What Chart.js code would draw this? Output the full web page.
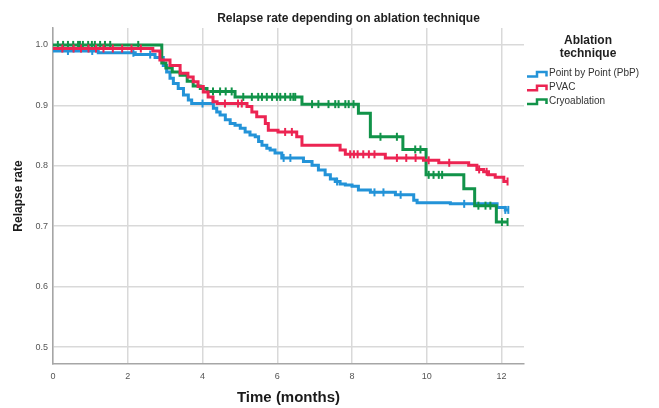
<!DOCTYPE html>
<html>
<head>
<meta charset="utf-8">
<title>Relapse rate depending on ablation technique</title>
<script src="https://cdn.jsdelivr.net/npm/chart.js@4/dist/chart.umd.min.js"></script>
<style>
  html, body { margin: 0; padding: 0; background: #ffffff; }
  #wrap { width: 659px; height: 408px; position: relative; }
</style>
</head>
<body>
<div id="wrap"><canvas id="km" width="659" height="408"></canvas></div>
<script>
// Kaplan-Meier estimates: time (months) of each step and the survival after it
const pbpTimes = [0, 1.21, 2.20, 2.73, 2.95, 3.04, 3.13, 3.22, 3.35, 3.49, 3.62, 3.71,
  4.29, 4.38, 4.47, 4.61, 4.74, 4.87, 5.01, 5.14, 5.27, 5.41, 5.50, 5.59, 5.72, 5.81, 5.94,
  6.12, 6.70, 6.93, 7.10, 7.28, 7.42, 7.55, 7.68, 7.82, 8.00, 8.17, 8.49, 9.16, 9.65, 9.74,
  10.63, 11.88, 12.10, 12.18];
const pbpSurvival = [0.990, 0.987, 0.984, 0.979, 0.966, 0.955, 0.945, 0.936, 0.928, 0.917, 0.909, 0.903,
  0.895, 0.889, 0.884, 0.876, 0.870, 0.867, 0.862, 0.856, 0.851, 0.848, 0.840, 0.834, 0.829, 0.826, 0.821,
  0.813, 0.807, 0.801, 0.793, 0.785, 0.778, 0.774, 0.770, 0.768, 0.766, 0.760, 0.756, 0.752, 0.743, 0.739,
  0.737, 0.731, 0.727, 0.727];
const pbpCensored = [0.40, 1.05, 2.15, 2.60, 4.00, 6.17, 6.35, 7.60, 8.60, 8.84, 9.30, 11.00, 12.10, 12.18];

const pvacTimes = [0, 2.67, 2.86, 3.13, 3.40, 3.61, 3.75, 3.88, 4.02, 4.15, 4.28, 4.39,
  5.19, 5.32, 5.45, 5.68, 5.76, 6.02, 6.52, 6.66, 7.68, 7.82, 8.89, 9.91, 10.32,
  11.12, 11.34, 11.52, 11.65, 11.83, 12.06, 12.16];
const pvacSurvival = [0.994, 0.990, 0.975, 0.966, 0.953, 0.947, 0.939, 0.931, 0.922, 0.914, 0.906, 0.903,
  0.898, 0.889, 0.881, 0.870, 0.859, 0.856, 0.848, 0.834, 0.826, 0.819, 0.813, 0.809, 0.805,
  0.801, 0.794, 0.790, 0.785, 0.781, 0.774, 0.774];
const pvacCensored = [0.25, 0.55, 0.75, 0.95, 1.15, 1.35, 1.60, 1.85, 2.10, 2.35, 4.60, 4.95, 5.05,
  6.21, 6.39, 7.95, 8.05, 8.15, 8.30, 8.45, 8.60, 9.20, 9.45, 9.70, 10.05, 10.60, 11.40, 11.60, 12.16];

const cryoTimes = [0, 2.91, 3.02, 3.19, 3.40, 3.59, 3.75, 3.94, 4.12, 4.87, 6.66, 8.17, 8.49,
  9.36, 9.98, 10.99, 11.28, 11.86, 12.16];
const cryoSurvival = [1.000, 0.970, 0.962, 0.955, 0.950, 0.940, 0.932, 0.928, 0.923, 0.914, 0.902, 0.887, 0.848,
  0.827, 0.785, 0.762, 0.734, 0.707, 0.707];
const cryoCensored = [0.13, 0.27, 0.40, 0.54, 0.67, 0.72, 0.80, 0.94, 1.04, 1.12, 1.26, 1.39, 1.53, 2.28,
  4.28, 4.47, 4.62, 4.78, 5.09, 5.32, 5.49, 5.59, 5.72, 5.86, 5.99, 6.08, 6.21, 6.35, 6.43, 6.48,
  6.93, 7.10, 7.37, 7.55, 7.64, 7.82, 7.91, 8.04, 8.76, 9.20, 9.69, 9.83, 10.05, 10.18, 10.32, 10.41,
  11.38, 11.57, 11.70, 12.01, 12.16];

const groupNames = ['Point by Point (PbP)', 'PVAC', 'Cryoablation'];
const xTickValues = [0, 2, 4, 6, 8, 10, 12];
const yTickValues = [0.5, 0.6, 0.7, 0.8, 0.9, 1.0];

const COLORS = ['#2393d8', '#ec2452', '#119349'];
const FONT = "'Liberation Sans', Arial, Helvetica, sans-serif";

function stepPoints(times, surv) {
  return times.map((t, i) => ({ x: t, y: surv[i] }));
}
function survivalAt(times, surv, t) {
  let v = surv[0];
  for (let i = 0; i < times.length; i++) { if (times[i] <= t) v = surv[i]; }
  return v;
}
function censorPoints(cens, times, surv) {
  return cens.map(t => ({ x: t, y: survivalAt(times, surv, t) }));
}

const groups = [
  { times: pbpTimes, surv: pbpSurvival, cens: pbpCensored, order: 3 },
  { times: pvacTimes, surv: pvacSurvival, cens: pvacCensored, order: 1 },
  { times: cryoTimes, surv: cryoSurvival, cens: cryoCensored, order: 2 }
];

const datasets = [];
groups.forEach((g, i) => {
  datasets.push({
    label: groupNames[i],
    data: stepPoints(g.times, g.surv),
    borderColor: COLORS[i],
    borderWidth: 3,
    stepped: 'before',
    pointRadius: 0,
    fill: false,
    borderJoinStyle: 'miter',
    borderCapStyle: 'butt',
    order: g.order
  });
  datasets.push({
    label: groupNames[i] + ' censored',
    data: censorPoints(g.cens, g.times, g.surv),
    showLine: false,
    borderColor: COLORS[i],
    pointBorderColor: COLORS[i],
    pointBackgroundColor: COLORS[i],
    pointStyle: 'line',
    rotation: 90,
    pointRadius: 4,
    pointBorderWidth: 2,
    order: g.order
  });
});

// Title and group legend
const decorations = {
  id: 'decorations',
  afterDraw(chart) {
    const ctx = chart.ctx;
    ctx.save();
    ctx.fillStyle = '#1f1f1f';
    ctx.textAlign = 'center';
    ctx.textBaseline = 'middle';
    ctx.font = 'bold 12px ' + FONT;
    ctx.fillText('Relapse rate depending on ablation technique', 348.5, 19);

    ctx.font = 'bold 12px ' + FONT;
    ctx.fillText('Ablation', 588, 40.5);
    ctx.fillText('technique', 588, 53.5);

    const rows = [73.5, 87.3, 101];
    ctx.textAlign = 'left';
    ctx.font = '10px ' + FONT;
    groupNames.forEach((name, i) => {
      const y = rows[i];
      ctx.strokeStyle = COLORS[i];
      ctx.lineWidth = 2.5;
      ctx.lineJoin = 'miter';
      ctx.beginPath();
      ctx.moveTo(527, y + 3);
      ctx.lineTo(537, y + 3);
      ctx.lineTo(537, y - 1.5);
      ctx.lineTo(546.5, y - 1.5);
      ctx.lineTo(546.5, y + 3);
      ctx.stroke();
      ctx.fillStyle = '#333333';
      ctx.fillText(name, 549, y);
    });
    ctx.restore();
  }
};

const gridColor = '#d9d9d9';
const axisColor = '#a6a6a6';

new Chart(document.getElementById('km'), {
  type: 'line',
  data: { datasets },
  plugins: [decorations],
  options: {
    responsive: false,
    animation: false,
    devicePixelRatio: 1,
    layout: { padding: { top: 28, right: 135, left: 0, bottom: 0 } },
    plugins: {
      legend: { display: false },
      title: { display: false },
      tooltip: { enabled: false }
    },
    scales: {
      x: {
        type: 'linear',
        min: 0,
        max: 12.6,
        afterBuildTicks: s => { s.ticks = xTickValues.map(v => ({ value: v })); },
        afterFit: s => { s.height = 44; },
        grid: { color: gridColor, lineWidth: 1.5, drawTicks: false },
        border: { color: axisColor, width: 1.5 },
        ticks: {
          autoSkip: false, maxRotation: 0, padding: 7,
          color: '#555555', font: { family: FONT, size: 9 },
          callback: v => String(v)
        },
        title: {
          display: true, text: 'Time (months)', color: '#1a1a1a',
          font: { family: FONT, size: 15, weight: 'bold' },
          padding: { top: 0, bottom: 1 }
        }
      },
      y: {
        type: 'linear',
        min: 0.472,
        max: 1.028,
        afterBuildTicks: s => { s.ticks = yTickValues.map(v => ({ value: v })); },
        afterFit: s => { s.width = 53; },
        grid: { color: gridColor, lineWidth: 1.5, drawTicks: false },
        border: { color: axisColor, width: 1.5 },
        ticks: {
          padding: 5, color: '#555555', font: { family: FONT, size: 9 },
          callback: v => Number(v).toFixed(1)
        },
        title: {
          display: true, text: 'Relapse rate', color: '#1a1a1a',
          font: { family: FONT, size: 12, weight: 'bold' },
          padding: { top: 11, bottom: 0 }
        }
      }
    }
  }
});
</script>
</body>
</html>
